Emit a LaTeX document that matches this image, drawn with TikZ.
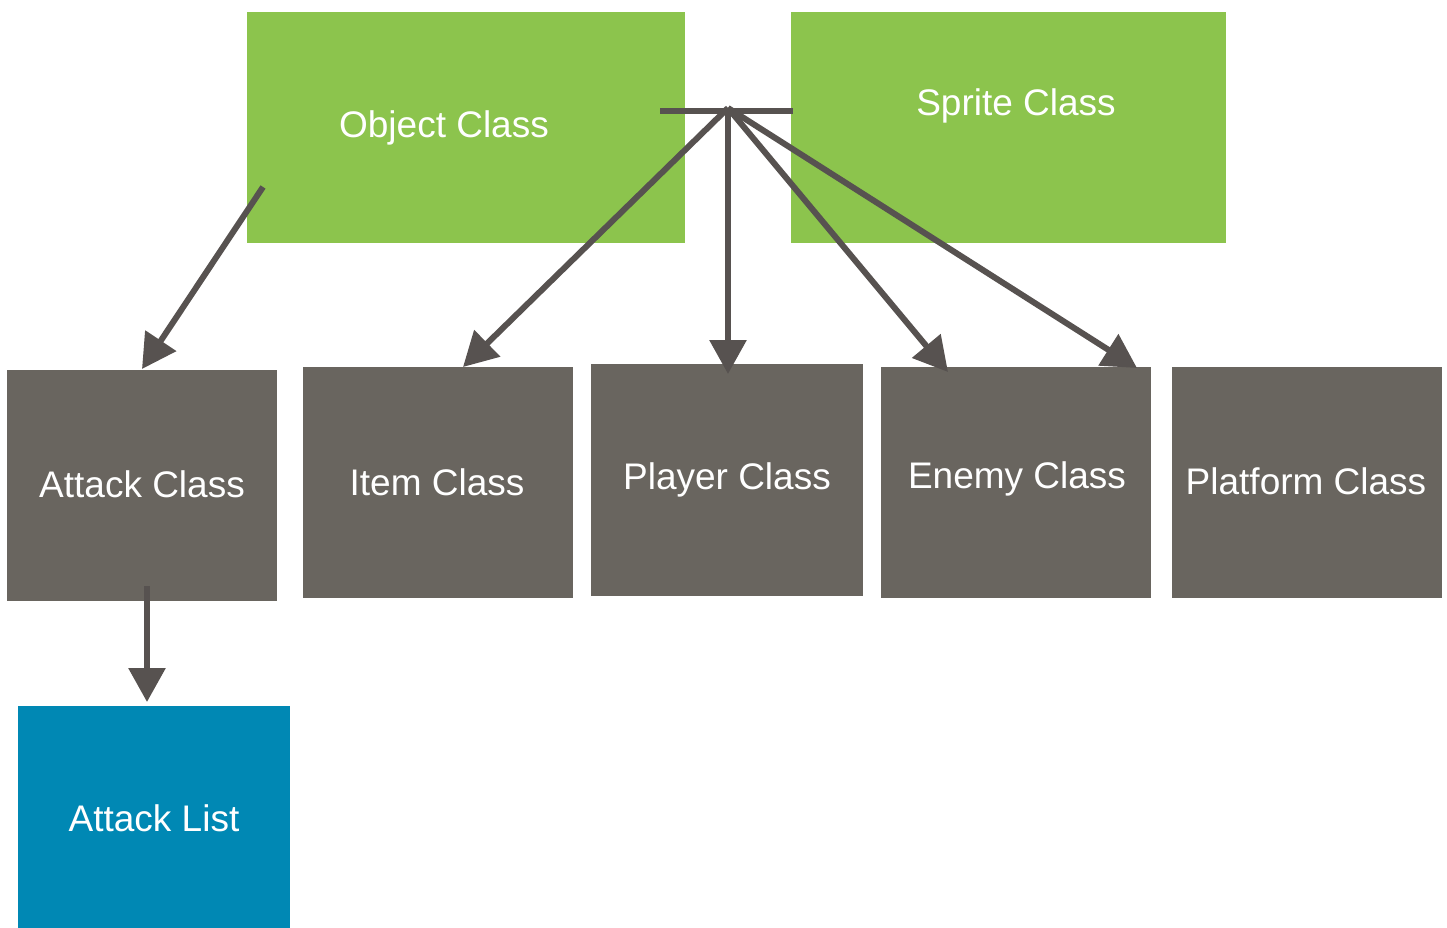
\documentclass[tikz,border=0pt]{standalone}
\usepackage{fontspec}
\setmainfont{Liberation Sans}
\usetikzlibrary{arrows.meta}
\definecolor{grn}{HTML}{8CC44D}
\definecolor{gry}{HTML}{69655F}
\definecolor{blu}{HTML}{0088B4}
\definecolor{arr}{HTML}{575250}
\tikzset{
  box/.style={anchor=north west, inner sep=0pt, outer sep=0pt},
  lbl/.style={text=white, font=\fontsize{37}{42}\selectfont, inner sep=0pt},
  conn/.style={draw=arr, line width=6pt, -{Triangle[length=34pt,width=36pt]}},
  bar/.style={draw=arr, line width=6pt},
}
\begin{document}
\begin{tikzpicture}[x=1pt,y=-1pt]
\useasboundingbox (0,0) rectangle (1447,928);
% boxes
\node[box, fill=grn, minimum width=438pt, minimum height=231pt] (obj) at (247,12) {};
\node[box, fill=grn, minimum width=435pt, minimum height=231pt] (spr) at (791,12) {};
\node[box, fill=gry, minimum width=270pt, minimum height=231pt] (atk) at (7,370) {};
\node[box, fill=gry, minimum width=270pt, minimum height=231pt] (itm) at (303,367) {};
\node[box, fill=gry, minimum width=272pt, minimum height=232pt] (ply) at (591,364) {};
\node[box, fill=gry, minimum width=270pt, minimum height=231pt] (eny) at (881,367) {};
\node[box, fill=gry, minimum width=270pt, minimum height=231pt] (plt) at (1172,367) {};
\node[box, fill=blu, minimum width=272pt, minimum height=222pt] (lst) at (18,706) {};
% labels
\node[lbl] (tobj) at (444,128) {Object Class};
\node[lbl] (tspr) at (1016,106) {Sprite Class};
\node[lbl] (tatk) at (142,484) {Attack Class};
\node[lbl] (titm) at (437,482) {Item Class};
\node[lbl] (tply) at (727,480) {Player Class};
\node[lbl] (teny) at (1017,479) {Enemy Class};
\node[lbl] (tplt) at (1306,481) {Platform Class};
\node[lbl] (tlst) at (154,818) {Attack List};
% connector points
\coordinate (barL) at (660,111);
\coordinate (barR) at (793,111);
\coordinate (j) at (728,108);
\coordinate (oa) at (263,187);
\coordinate (al) at (147,586);
\coordinate (tItm) at (463,367);
\coordinate (tPly) at (728,374);
\coordinate (tEny) at (948,372);
\coordinate (tEny2) at (1137,368);
\coordinate (tAtk) at (142,369);
\coordinate (tLst) at (147,702);
% connectors
\draw[bar] (barL) -- (barR);
\draw[conn] (j) -- (tItm);
\draw[conn] (j) -- (tPly);
\draw[conn] (j) -- (tEny);
\draw[conn] (j) -- (tEny2);
\draw[conn] (oa) -- (tAtk);
\draw[conn] (al) -- (tLst);
\end{tikzpicture}
\end{document}
